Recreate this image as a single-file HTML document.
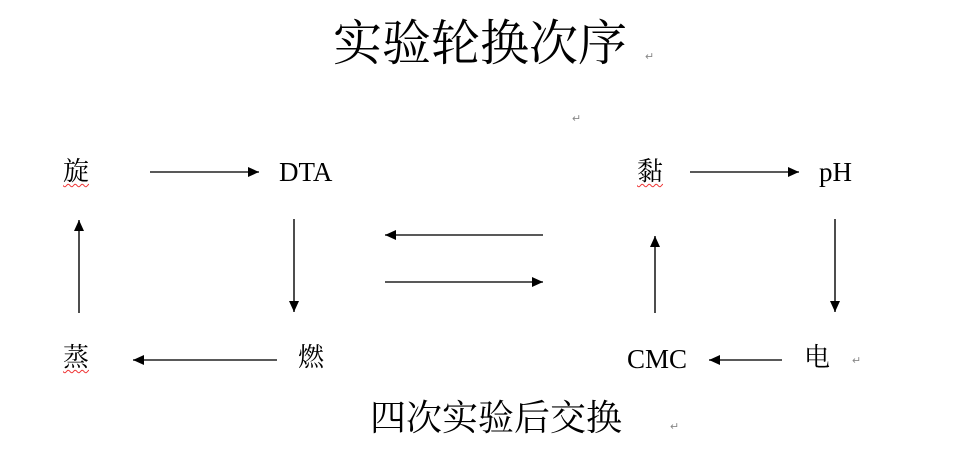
<!DOCTYPE html>
<html><head><meta charset="utf-8"><style>
html,body{margin:0;padding:0;background:#fff;width:960px;height:469px;overflow:hidden;position:relative}
.t{position:absolute;font-family:"Liberation Serif","Noto Serif CJK SC","Noto Sans CJK SC",serif;color:#000;white-space:nowrap;line-height:1}
.r{position:absolute;font-family:"Liberation Sans",sans-serif;font-size:11px;color:#888}
.u{text-decoration:underline wavy #e33;text-decoration-thickness:1px;text-underline-offset:3px}
</style></head><body>
<div class="t" style="left:333px;top:19px;font-size:49px">实验轮换次序</div>
<div class="r" style="left:645px;top:50px">↵</div>
<div class="r" style="left:572px;top:112px">↵</div>
<div class="t u" style="left:63px;top:159px;font-size:26px">旋</div>
<div class="t" style="left:279px;top:159px;font-size:27px">DTA</div>
<div class="t u" style="left:637px;top:159px;font-size:26px">黏</div>
<div class="t" style="left:819px;top:159px;font-size:27px">pH</div>
<div class="t u" style="left:63px;top:345px;font-size:26px">蒸</div>
<div class="t" style="left:298px;top:345px;font-size:26px">燃</div>
<div class="t" style="left:627px;top:346px;font-size:27px">CMC</div>
<div class="t" style="left:804px;top:345px;font-size:26px">电</div>
<div class="r" style="left:852px;top:354px">↵</div>
<div class="t" style="left:370px;top:400px;font-size:36px">四次实验后交换</div>
<div class="r" style="left:670px;top:420px">↵</div>
<svg width="960" height="469" style="position:absolute;left:0;top:0">
<defs><marker id="a" markerWidth="11" markerHeight="10" refX="11" refY="5" orient="auto" markerUnits="userSpaceOnUse"><path d="M0,0L11,5L0,10z" fill="#000"/></marker></defs>
<g stroke="#222" stroke-width="1.6" marker-end="url(#a)">
<line x1="150" y1="172" x2="259" y2="172"/>
<line x1="294" y1="219" x2="294" y2="312"/>
<line x1="277" y1="360" x2="133" y2="360"/>
<line x1="79" y1="313" x2="79" y2="220"/>
<line x1="690" y1="172" x2="799" y2="172"/>
<line x1="835" y1="219" x2="835" y2="312"/>
<line x1="782" y1="360" x2="709" y2="360"/>
<line x1="655" y1="313" x2="655" y2="236"/>
<line x1="543" y1="235" x2="385" y2="235"/>
<line x1="385" y1="282" x2="543" y2="282"/>
</g></svg>
</body></html>
